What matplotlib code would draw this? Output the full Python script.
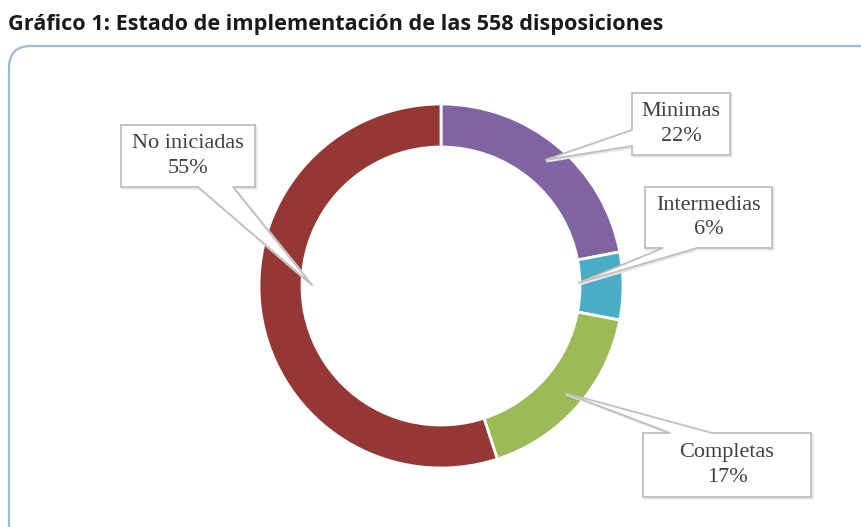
import matplotlib
matplotlib.use("Agg")
import matplotlib.pyplot as plt
from matplotlib.patches import Polygon, FancyBboxPatch

# data
labels = ["Minimas", "Intermedias", "Completas", "No iniciadas"]
values = [22, 6, 17, 55]
colors = ["#8064a2", "#4bacc6", "#9bbb59", "#953735"]
title = "Gráfico 1: Estado de implementación de las 558 disposiciones"

W, H = 862, 527
fig = plt.figure(figsize=(W / 100, H / 100), dpi=100)
ax = fig.add_axes([0, 0, 1, 1])
ax.set_xlim(0, W)
ax.set_ylim(0, H)
ax.axis("off")


def Y(y):
    # pixel row (from top) -> axes y
    return H - y


# outer rounded frame
frame = FancyBboxPatch((9, Y(527 + 20)), 870, 527 + 20 - 46,
                       boxstyle="round,pad=0,rounding_size=22",
                       fc="white", ec="#9fb9da", lw=1.6, zorder=1)
ax.add_patch(frame)

ax.text(8, Y(24), title, fontsize=15.6, fontweight="bold", family="Open Sans",
        color="#1a1a1a", va="center", ha="left")

# donut
cx, cy, R, w = 441, 286, 182, 43
ax.pie(values, colors=colors, startangle=90, counterclock=False,
       radius=R, center=(cx, Y(cy)), frame=True,
       wedgeprops=dict(width=w, edgecolor="white", linewidth=2))
ax.set_xlim(0, W)
ax.set_ylim(0, H)
ax.set_aspect("equal")
ax.axis("off")

# callout boxes: (left, top, right, bottom), pointer side, pointer base, tip
boxes = [
    ((632, 93, 730, 155), "left", (130, 146), (545, 160)),
    ((645, 187, 772, 248), "bottom", (663, 697), (578, 283)),
    ((643, 433, 811, 497), "top", (670, 712), (565, 393)),
    ((121, 125, 255, 187), "bottom", (198, 233), (312, 285)),
]

for lab, v, (box, side, base, tip) in zip(labels, values, boxes):
    l, t, r, b = box
    if side == "left":
        pts = [(l, t), (r, t), (r, b), (l, b), (l, base[1]), tip, (l, base[0])]
    elif side == "bottom":
        pts = [(l, t), (r, t), (r, b), (base[1], b), tip, (base[0], b), (l, b)]
    else:
        pts = [(l, t), (base[0], t), tip, (base[1], t), (r, t), (r, b), (l, b)]
    pts = [(x, Y(y)) for x, y in pts]
    shadow = Polygon([(x + 1.5, y - 1.5) for x, y in pts], closed=True,
                     fc="#e6e6e6", ec="#e6e6e6", lw=1.5, zorder=4)
    ax.add_patch(shadow)
    ax.add_patch(Polygon(pts, closed=True, fc="white", ec="#bfbfbf",
                         lw=1.3, zorder=5))
    ax.text((l + r) / 2, Y((t + b) / 2), f"{lab}\n{v}%", ha="center",
            va="center", family="Liberation Serif", fontsize=16,
            color="#404040", linespacing=1.4, zorder=6)

fig.savefig("out.png", dpi=100)
